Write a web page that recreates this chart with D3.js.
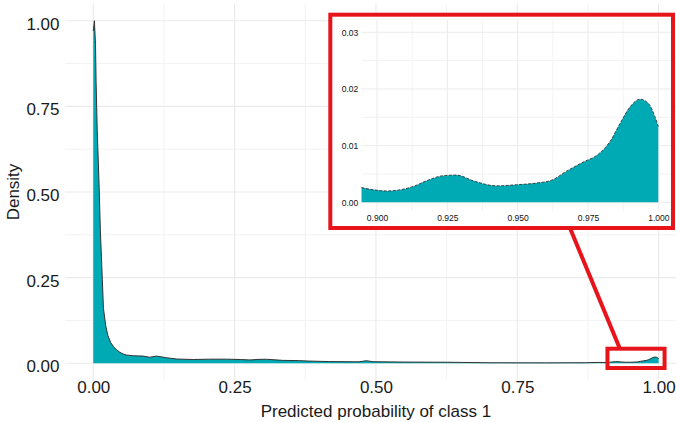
<!DOCTYPE html>
<html>
<head>
<meta charset="utf-8">
<script src="https://cdn.jsdelivr.net/npm/d3@7/dist/d3.min.js"></script>
<style>
  html, body { margin: 0; padding: 0; background: #fff; }
  svg { display: block; font-family: "Liberation Sans", Arial, sans-serif; }
</style>
</head>
<body>
<svg id="chart" width="676" height="422"></svg>
<script>
// Estimated density of the predicted probability of class 1 (full range)
const probMain = [0.000, 0.002, 0.004, 0.005, 0.007, 0.010, 0.0125, 0.016, 0.018, 0.022,
  0.026, 0.031, 0.036, 0.042, 0.047, 0.053, 0.059, 0.070, 0.088, 0.100,
  0.112, 0.130, 0.1475, 0.177, 0.206, 0.236, 0.260, 0.277, 0.295, 0.306,
  0.335, 0.365, 0.380, 0.418, 0.470, 0.483, 0.495, 0.550, 0.625, 0.700,
  0.800, 0.870, 0.8945, 0.9034, 0.9129, 0.9176, 0.9236, 0.9283, 0.9342, 0.9425,
  0.9496, 0.9568, 0.9621, 0.9674, 0.9733, 0.9787, 0.9828, 0.9864, 0.9899, 0.9935,
  0.9964, 0.9988, 1.000];
const densMain = [0.970, 1.000, 0.930, 0.820, 0.680, 0.535, 0.390, 0.245, 0.160, 0.110,
  0.080, 0.060, 0.048, 0.038, 0.032, 0.027, 0.024, 0.022, 0.021, 0.0175,
  0.021, 0.016, 0.0124, 0.011, 0.012, 0.012, 0.011, 0.0097, 0.0115, 0.0117,
  0.0085, 0.0077, 0.0065, 0.0049, 0.0042, 0.0075, 0.0045, 0.0035, 0.0030, 0.0015,
  0.0012, 0.0016, 0.0026, 0.0020, 0.0028, 0.0038, 0.0047, 0.0048, 0.0038, 0.0029,
  0.0031, 0.0034, 0.0039, 0.0055, 0.0071, 0.0085, 0.0107, 0.0139, 0.0168, 0.0182,
  0.0175, 0.0151, 0.0134];

// Zoomed view of the upper tail (0.9 to 1.0)
const probZoom = [0.8945, 0.9034, 0.9129, 0.9176, 0.9236, 0.9283, 0.9342, 0.9425, 0.9496, 0.9568,
  0.9621, 0.9674, 0.9733, 0.9787, 0.9828, 0.9864, 0.9899, 0.9935, 0.9964, 0.9988, 1.000];
const densZoom = [0.0026, 0.0020, 0.0028, 0.0038, 0.0047, 0.0048, 0.0038, 0.0029, 0.0031, 0.0034,
  0.0039, 0.0055, 0.0071, 0.0085, 0.0107, 0.0139, 0.0168, 0.0182, 0.0175, 0.0151, 0.0134];

const mainTicks = [0, 0.25, 0.5, 0.75, 1];
const mainMinor = [0.125, 0.375, 0.625, 0.875];
const zoomXTicks = [0.9, 0.925, 0.95, 0.975, 1.0];
const zoomXMinor = [0.9125, 0.9375, 0.9625, 0.9875];
const zoomYTicks = [0, 0.01, 0.02, 0.03];
const zoomYMinor = [0.005, 0.015, 0.025];

const FILL = "#00AAB4", LINE = "#333333", GRID = "#EBEBEB", GRID_MINOR = "#F3F3F3", RED = "#E8141C";

const svg = d3.select("#chart");

// ---- main panel ----
const x = d3.scaleLinear().domain([-0.05, 1.05]).range([65, 686.9]);
const y = d3.scaleLinear().domain([-0.05, 1.05]).range([380.4, 3.6]);
const [px0, px1] = x.range(), [py0, py1] = y.range();

const grid = svg.append("g");
grid.selectAll(".hmin").data(mainMinor).join("line")
  .attr("x1", px0).attr("x2", px1).attr("y1", d => y(d)).attr("y2", d => y(d))
  .attr("stroke", GRID_MINOR).attr("stroke-width", 1);
grid.selectAll(".vmin").data(mainMinor).join("line")
  .attr("y1", py0).attr("y2", py1).attr("x1", d => x(d)).attr("x2", d => x(d))
  .attr("stroke", GRID_MINOR).attr("stroke-width", 1);
grid.selectAll(".hmaj").data(mainTicks).join("line")
  .attr("x1", px0).attr("x2", px1).attr("y1", d => y(d)).attr("y2", d => y(d))
  .attr("stroke", GRID).attr("stroke-width", 1.2);
grid.selectAll(".vmaj").data(mainTicks).join("line")
  .attr("y1", py0).attr("y2", py1).attr("x1", d => x(d)).attr("x2", d => x(d))
  .attr("stroke", GRID).attr("stroke-width", 1.2);

const mainPts = probMain.map((p, i) => [p, densMain[i]]);
svg.append("path").datum(mainPts)
  .attr("fill", FILL)
  .attr("d", d3.area().x(d => x(d[0])).y0(y(0)).y1(d => y(d[1])));
svg.append("path").datum(mainPts)
  .attr("fill", "none").attr("stroke", LINE).attr("stroke-width", 1)
  .attr("d", d3.line().x(d => x(d[0])).y(d => y(d[1])));

const fmt2 = d3.format(".2f");
const xAxis = svg.append("g").attr("transform", `translate(0,${py0})`)
  .call(d3.axisBottom(x).tickValues(mainTicks).tickFormat(fmt2).tickSize(0).tickPadding(1));
const yAxis = svg.append("g").attr("transform", `translate(${px0},0)`)
  .call(d3.axisLeft(y).tickValues(mainTicks).tickFormat(fmt2).tickSize(0).tickPadding(5.5));
[xAxis, yAxis].forEach(a => {
  a.select(".domain").remove();
  a.selectAll("text").attr("font-size", 17).attr("fill", "#1a1a1a")
    .attr("font-family", "Liberation Sans, Arial, sans-serif");
});
yAxis.selectAll("text").attr("dy", "0.5em");

svg.append("text").attr("x", (x(0) + x(1)) / 2).attr("y", 417)
  .attr("text-anchor", "middle").attr("font-size", 17).attr("fill", "#1a1a1a")
  .text("Predicted probability of class 1");
svg.append("text").attr("transform", `translate(19,${(py0 + py1) / 2}) rotate(-90)`)
  .attr("text-anchor", "middle").attr("font-size", 17).attr("fill", "#1a1a1a")
  .text("Density");

// ---- inset zoom panel ----
const box = { x0: 330.3, x1: 673, y0: 14.7, y1: 228 };
const xi = d3.scaleLinear().domain([0.9, 1.0]).range([377, 658.3]);
const yi = d3.scaleLinear().domain([0, 0.03]).range([202.3, 32.3]);
const ip = { x0: 361.7, x1: 671, y0: 20, y1: 211 };

svg.append("rect").attr("x", box.x0).attr("y", box.y0)
  .attr("width", box.x1 - box.x0).attr("height", box.y1 - box.y0).attr("fill", "#fff");

const ig = svg.append("g");
ig.selectAll(".ihmin").data(zoomYMinor).join("line")
  .attr("x1", ip.x0).attr("x2", ip.x1).attr("y1", d => yi(d)).attr("y2", d => yi(d))
  .attr("stroke", GRID_MINOR).attr("stroke-width", 1);
ig.selectAll(".ivmin").data(zoomXMinor).join("line")
  .attr("y1", ip.y0).attr("y2", ip.y1).attr("x1", d => xi(d)).attr("x2", d => xi(d))
  .attr("stroke", GRID_MINOR).attr("stroke-width", 1);
ig.selectAll(".ihmaj").data(zoomYTicks).join("line")
  .attr("x1", ip.x0).attr("x2", ip.x1).attr("y1", d => yi(d)).attr("y2", d => yi(d))
  .attr("stroke", GRID).attr("stroke-width", 1);
ig.selectAll(".ivmaj").data(zoomXTicks).join("line")
  .attr("y1", ip.y0).attr("y2", ip.y1).attr("x1", d => xi(d)).attr("x2", d => xi(d))
  .attr("stroke", GRID).attr("stroke-width", 1);

const zoomPts = probZoom.map((p, i) => [p, densZoom[i]]);
const curve = d3.curveMonotoneX;
svg.append("path").datum(zoomPts)
  .attr("fill", FILL)
  .attr("d", d3.area().curve(curve).x(d => xi(d[0])).y0(yi(0)).y1(d => yi(d[1])));
svg.append("path").datum(zoomPts)
  .attr("fill", "none").attr("stroke", LINE).attr("stroke-width", 0.9)
  .attr("stroke-dasharray", "3,1.5")
  .attr("d", d3.line().curve(curve).x(d => xi(d[0])).y(d => yi(d[1])));

const ixAxis = svg.append("g").attr("transform", `translate(0,${ip.y1})`)
  .call(d3.axisBottom(xi).tickValues(zoomXTicks).tickFormat(d3.format(".3f")).tickSize(0).tickPadding(4));
const iyAxis = svg.append("g").attr("transform", `translate(${ip.x0},0)`)
  .call(d3.axisLeft(yi).tickValues(zoomYTicks).tickFormat(fmt2).tickSize(0).tickPadding(3.5));
[ixAxis, iyAxis].forEach(a => {
  a.select(".domain").remove();
  a.selectAll("text").attr("font-size", 8.5).attr("fill", "#111")
    .attr("font-family", "Liberation Sans, Arial, sans-serif");
});

svg.append("rect").attr("x", box.x0).attr("y", box.y0)
  .attr("width", box.x1 - box.x0).attr("height", box.y1 - box.y0)
  .attr("fill", "none").attr("stroke", RED).attr("stroke-width", 4);

// highlight box on the main panel and connector to the inset
const hx0 = x(0.9095), hx1 = x(1.0105), hy0 = y(0.0425), hy1 = y(-0.0138);
svg.append("rect").attr("x", hx0).attr("y", hy0)
  .attr("width", hx1 - hx0).attr("height", hy1 - hy0)
  .attr("fill", "none").attr("stroke", RED).attr("stroke-width", 4);
svg.append("line")
  .attr("x1", xi(0.9686)).attr("y1", box.y1)
  .attr("x2", x(0.9315)).attr("y2", hy0)
  .attr("stroke", RED).attr("stroke-width", 4);
</script>
</body>
</html>
